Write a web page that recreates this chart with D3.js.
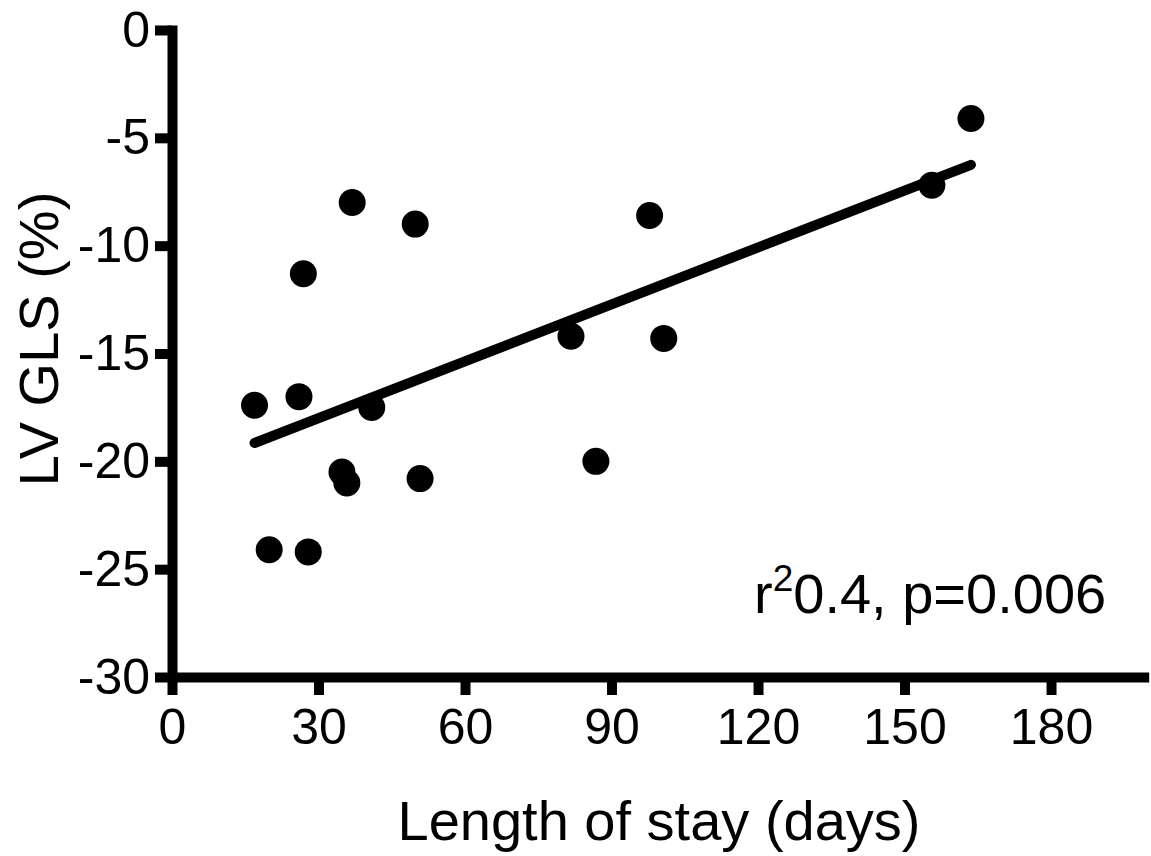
<!DOCTYPE html>
<html>
<head>
<meta charset="utf-8">
<script src="https://cdn.jsdelivr.net/npm/d3@7"></script>
<style>
  html, body { margin: 0; padding: 0; background: #fff; }
  svg { display: block; }
  text { font-family: "Liberation Sans", Arial, Helvetica, sans-serif; fill: #000; }
</style>
</head>
<body>
<svg id="chart" width="1151" height="856"></svg>
<script>
// Length of stay (days) against LV global longitudinal strain (%)
const stayDays = [16.9, 19.9, 26.0, 26.9, 27.9, 34.8, 35.8, 36.9, 40.9, 49.8, 50.8, 81.7, 86.8, 97.8, 100.7, 155.6, 163.6];
const lvGls    = [-17.4, -24.1, -17.0, -11.3, -24.2, -20.5, -21.0, -8.0, -17.5, -9.0, -20.8, -14.2, -20.0, -8.6, -14.3, -7.2, -4.1];

// Linear regression line (end points at the data range)
const fitX = [16.9, 163.6];
const fitY = [-19.15, -6.25];

const xTicks = [0, 30, 60, 90, 120, 150, 180];
const yTicks = [0, -5, -10, -15, -20, -25, -30];

const statsText = { r2: "0.4", p: "0.006" };

const svg = d3.select("#chart");

const x = d3.scaleLinear().domain([0, 200]).range([172, 1148.7]);
const y = d3.scaleLinear().domain([-30, 0]).range([677, 30]);

// Plain hyphen-minus for negative tick labels
const plain = d => String(d);

// Axes
const xAxis = svg.append("g")
  .attr("transform", `translate(0,${y(-30)})`)
  .call(d3.axisBottom(x).tickValues(xTicks).tickFormat(plain)
    .tickSize(18).tickSizeOuter(0).tickPadding(13));

const yAxis = svg.append("g")
  .attr("transform", `translate(${x(0)},0)`)
  .call(d3.axisLeft(y).tickValues(yTicks).tickFormat(plain)
    .tickSize(17).tickSizeOuter(0).tickPadding(5));

[xAxis, yAxis].forEach(g => {
  g.select(".domain").attr("stroke", "#000").attr("stroke-width", 10);
  g.selectAll(".tick line").attr("stroke", "#000").attr("stroke-width", 10);
  g.selectAll(".tick text")
    .attr("fill", "#000")
    .style("font-family", '"Liberation Sans", Arial, Helvetica, sans-serif')
    .style("font-size", "50px");
});
yAxis.select(".domain").attr("stroke-linecap", "square");

// Regression line
svg.append("line")
  .attr("x1", x(fitX[0])).attr("y1", y(fitY[0]))
  .attr("x2", x(fitX[1])).attr("y2", y(fitY[1]))
  .attr("stroke", "#000")
  .attr("stroke-width", 10)
  .attr("stroke-linecap", "round");

// Data points
svg.append("g")
  .selectAll("circle")
  .data(stayDays.map((d, i) => [d, lvGls[i]]))
  .join("circle")
  .attr("cx", d => x(d[0]))
  .attr("cy", d => y(d[1]))
  .attr("r", 13.5)
  .attr("fill", "#000");

// Axis titles
svg.append("text")
  .attr("x", 659)
  .attr("y", 840)
  .attr("text-anchor", "middle")
  .style("font-size", "56px")
  .text("Length of stay (days)");

svg.append("text")
  .attr("transform", "translate(58,339) rotate(-90)")
  .attr("text-anchor", "middle")
  .style("font-size", "56px")
  .text("LV GLS (%)");

// Fit statistics
const stat = svg.append("text")
  .attr("x", 754)
  .attr("y", 613)
  .style("font-size", "56px");
stat.append("tspan").text("r");
stat.append("tspan").attr("dy", -22).style("font-size", "37px").text("2");
stat.append("tspan").attr("dy", 22).text(`${statsText.r2}, p=${statsText.p}`);
</script>
</body>
</html>
